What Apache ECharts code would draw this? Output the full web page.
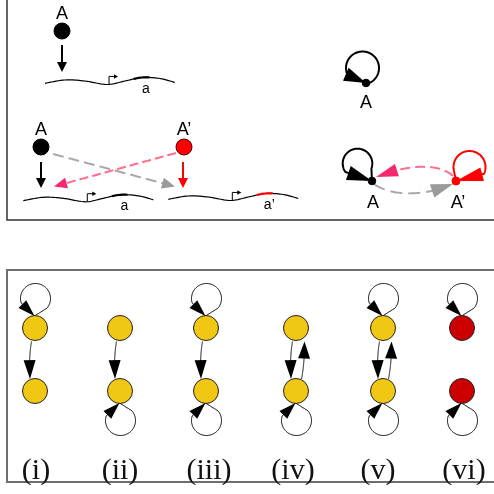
<!DOCTYPE html>
<html><head><meta charset="utf-8">
<script src="https://cdn.jsdelivr.net/npm/echarts@6/dist/echarts.min.js"></script>
<style>html,body{margin:0;padding:0;background:#fff}#c{width:494px;height:494px}</style>
</head><body><div id="c"></div>
<script>
// ---------- data ----------
const topNodeLabels = ['A', 'A’'];
const geneLabels = ['a', 'a’'];
const motifLabels = ['(i)', '(ii)', '(iii)', '(iv)', '(v)', '(vi)'];
const motifTopSelfLoop = [1, 0, 1, 0, 1, 1];
const motifBottomSelfLoop = [0, 1, 1, 1, 1, 1];
const motifDownEdge = [1, 1, 1, 1, 1, 0];
const motifUpEdge = [0, 0, 0, 1, 1, 0];
const motifRepressed = [0, 0, 0, 0, 0, 1];

// ---------- layout (value space 0..494 on both axes) ----------
const LAYOUT = {
  motifNodeX: [35, 120, 206, 296, 383, 462],
  motifLabelX: [36, 120, 209, 293, 378, 464],
  motifTopY: 328, motifBottomY: 391, motifR: 12.5, motifLabelY: 471,
  geneShape: [[0,0],[20,-3.3],[40,-2.3],[62,1.2],[80,-2.3],[97,-5.8],[115,-4.8],[130,-0.8]],
  geneStarts: [[45,83.3],[23.3,200.6],[168.3,199.3]]
};
const STYLE = {
  yellow: '#f0c814', red: '#cc0000', bright: '#ff0000',
  pinkLine: '#ff6f8c', pinkHead: '#f5286e', grayLine: '#a8a8a8', grayHead: '#9a9a9a'
};

const chart = echarts.init(document.getElementById('c'), null, {renderer: 'canvas'});
const deg = Math.PI / 180;

function renderItem(params, api) {
  const P = (x, y) => api.coord([x, y]);
  const kids = [];
  const dist = (a, b) => Math.hypot(a[0] - b[0], a[1] - b[1]);
  function bezPt(p0, c1, c2, p1, t) {
    const u = 1 - t;
    return [u*u*u*p0[0] + 3*u*u*t*c1[0] + 3*u*t*t*c2[0] + t*t*t*p1[0],
            u*u*u*p0[1] + 3*u*u*t*c1[1] + 3*u*t*t*c2[1] + t*t*t*p1[1]];
  }
  function head(tip, from, len, w, color) {
    let dx = tip[0] - from[0], dy = tip[1] - from[1];
    const d = Math.hypot(dx, dy) || 1; dx /= d; dy /= d;
    const b = [tip[0] - dx * len, tip[1] - dy * len];
    const nx = -dy * w / 2, ny = dx * w / 2;
    kids.push({type: 'polygon', z2: 20, shape: {points: [tip, [b[0] + nx, b[1] + ny], [b[0] - nx, b[1] - ny]]},
      style: {fill: color, stroke: null}});
  }
  // path (pixel points) ending in an arrowhead at its last point
  function pathArrow(pts, o) {
    const p1 = pts[pts.length - 1];
    // densify
    const dense = [];
    for (let i = 0; i < pts.length - 1; i++) {
      const a = pts[i], b = pts[i + 1], n = Math.max(1, Math.ceil(dist(a, b)));
      for (let j = 0; j < n; j++) dense.push([a[0] + (b[0] - a[0]) * j / n, a[1] + (b[1] - a[1]) * j / n]);
    }
    dense.push(p1);
    let k = dense.length - 1;
    while (k > 0 && dist(dense[k], p1) < o.len * 0.9) k--;
    kids.push({type: 'polyline', z2: 5, shape: {points: dense.slice(0, k + 1)},
      style: {stroke: o.color, lineWidth: o.lw, fill: null, lineDash: o.dash || null, lineCap: 'butt', lineJoin: 'round'}});
    head(p1, dense[k], o.len, o.w, o.headColor || o.color);
  }
  function arrow(p0v, c1v, c2v, p1v, o) {
    const p0 = P(p0v[0], p0v[1]), c1 = P(c1v[0], c1v[1]), c2 = P(c2v[0], c2v[1]), p1 = P(p1v[0], p1v[1]);
    const pts = [];
    for (let i = 0; i <= 100; i++) pts.push(bezPt(p0, c1, c2, p1, i / 100));
    pathArrow(pts, o);
  }
  function straight(a, b, o) { arrow(a, a, b, b, o); }
  // self loop: line from node point p to circle (center c, radius r) at angle a1, arc to a2, back to p with arrowhead
  function arcLoop(p, c, r, a1, a2, o) {
    const pts = [P(p[0], p[1])];
    const n = 90;
    for (let i = 0; i <= n; i++) {
      const a = (a1 + (a2 - a1) * i / n) * deg;
      pts.push(P(c[0] + r * Math.cos(a), c[1] + r * Math.sin(a)));
    }
    pts.push(P(p[0], p[1]));
    pathArrow(pts, o);
  }
  function circle(x, y, r, fill, stroke, lw) {
    const c = P(x, y);
    kids.push({type: 'circle', z2: 10, shape: {cx: c[0], cy: c[1], r: r}, style: {fill: fill, stroke: stroke, lineWidth: lw}});
  }
  function text(s, x, y, font, color) {
    const c = P(x, y);
    kids.push({type: 'text', z2: 30, style: {text: s, x: c[0], y: c[1], font: font, fill: color || '#000',
      align: 'center', verticalAlign: 'middle'}});
  }
  function catmull(pts, seg) {
    const out = [];
    for (let i = 0; i < pts.length - 1; i++) {
      const p0 = pts[Math.max(0, i - 1)], p1 = pts[i], p2 = pts[i + 1], p3 = pts[Math.min(pts.length - 1, i + 2)];
      for (let j = 0; j < seg; j++) {
        const t = j / seg, t2 = t * t, t3 = t2 * t;
        out.push([0, 1].map(k => 0.5 * ((2 * p1[k]) + (-p0[k] + p2[k]) * t + (2*p0[k] - 5*p1[k] + 4*p2[k] - p3[k]) * t2 + (-p0[k] + 3*p1[k] - 3*p2[k] + p3[k]) * t3)));
      }
    }
    out.push(pts[pts.length - 1]);
    return out;
  }
  function gene(start, label, segColor) {
    const pts = catmull(LAYOUT.geneShape.map(q => [start[0] + q[0], start[1] + q[1]]), 10);
    kids.push({type: 'polyline', z2: 5, shape: {points: pts.map(q => P(q[0], q[1]))},
      style: {stroke: '#000', lineWidth: 1.2, fill: null}});
    const seg = pts.filter(q => q[0] >= start[0] + 87 && q[0] <= start[0] + 106);
    kids.push({type: 'polyline', z2: 6, shape: {points: seg.map(q => P(q[0], q[1]))},
      style: {stroke: segColor, lineWidth: 2.2, fill: null}});
    const px = start[0] + 64;
    const py = pts.reduce((b, q) => Math.abs(q[0] - px) < Math.abs(b[0] - px) ? q : b)[1];
    const a = P(px, py), b = P(px, py - 8), c = P(px + 6, py - 8);
    kids.push({type: 'polyline', z2: 6, shape: {points: [a, b, c]}, style: {stroke: '#000', lineWidth: 1, fill: null}});
    head(P(px + 9, py - 8), c, 4, 4.5, '#000');
    text(label, start[0] + 101, start[1] + 5.5, '14px "Liberation Sans", Arial', '#000');
  }

  // ---------- panel borders ----------
  kids.push({type: 'polyline', shape: {points: [P(7, -5), P(7, 220), P(500, 220)]},
    style: {stroke: '#333', lineWidth: 1.5, fill: null}});
  kids.push({type: 'polyline', shape: {points: [P(500, 270), P(7, 270), P(7, 482), P(500, 482)]},
    style: {stroke: '#6e6e6e', lineWidth: 2, fill: null}});

  const lab = '18px "Liberation Sans", Arial';
  // ---------- top-left: single gene ----------
  circle(62, 31, 8, '#000', '#000', 1);
  text(topNodeLabels[0], 62, 14, lab);
  straight([62, 45], [62, 72], {color: '#000', lw: 2, len: 10, w: 10});
  gene(LAYOUT.geneStarts[0], geneLabels[0], '#000');

  // ---------- middle-left: duplicated genes ----------
  straight([53, 154], [175, 186.5], {color: STYLE.grayLine, headColor: STYLE.grayHead, lw: 2, len: 13, w: 11, dash: [11, 5]});
  straight([176, 153], [54, 186.5], {color: STYLE.pinkLine, headColor: STYLE.pinkHead, lw: 2, len: 13, w: 11, dash: [9, 4]});
  circle(41, 147, 8, '#000', '#000', 1);
  circle(184, 147, 8, STYLE.bright, '#5a0000', 1);
  text(topNodeLabels[0], 41, 130, lab);
  text(topNodeLabels[1], 184, 130, lab);
  straight([41, 162], [41, 188], {color: '#000', lw: 2, len: 10, w: 10});
  straight([183, 162], [183, 188], {color: STYLE.bright, lw: 2, len: 10, w: 10});
  gene(LAYOUT.geneStarts[1], geneLabels[0], '#000');
  gene(LAYOUT.geneStarts[2], geneLabels[1], STYLE.bright);

  // ---------- top-right: network views ----------
  arcLoop([366, 83], [362.5, 68], 16.5, 72, -205, {color: '#000', lw: 2, len: 22, w: 14});
  circle(366, 83, 3.8, '#000', '#000', 1);
  text(topNodeLabels[0], 366, 103, lab);

  arrow([453, 176], [440, 164], [412, 163], [376, 177], {color: STYLE.pinkLine, headColor: STYLE.pinkHead, lw: 2, len: 22, w: 13, dash: [10, 5]});
  arrow([374, 184], [392, 197], [426, 196], [453, 184], {color: STYLE.grayLine, headColor: STYLE.grayHead, lw: 2, len: 22, w: 14, dash: [12, 6]});
  arcLoop([372, 181], [357.5, 163.5], 14.8, 20, -215, {color: '#000', lw: 2, len: 25, w: 15});
  arcLoop([456, 181], [469.5, 167], 16, 165, 385, {color: STYLE.bright, lw: 2, len: 27, w: 14});
  circle(372, 181, 3.8, '#000', '#000', 1);
  circle(456, 181, 4, STYLE.bright, STYLE.bright, 1);
  text(topNodeLabels[0], 373, 203, lab);
  text(topNodeLabels[1], 458, 203, lab);

  // ---------- bottom: motifs ----------
  const ty = LAYOUT.motifTopY, by = LAYOUT.motifBottomY, r = LAYOUT.motifR;
  motifLabels.forEach((m, i) => {
    const x = LAYOUT.motifNodeX[i];
    const eo = {color: '#000', lw: 1, len: 19, w: 12};
    const lo = {color: '#000', lw: 1, len: 17, w: 11};
    if (motifTopSelfLoop[i]) arcLoop([x - 0.5, ty - r + 0.5], [x + 0.5, ty - 29.5], 15, 40, -197, lo);
    if (motifBottomSelfLoop[i]) arcLoop([x - 0.5, by + r - 0.5], [x + 0.5, by + 29.5], 15, -40, 197, lo);
    if (motifDownEdge[i]) arrow([x - 3.5, ty + r + 1], [x - 5, ty + r + 10], [x - 6, by - r - 18], [x - 5, by - r + 0.5], eo);
    if (motifUpEdge[i]) arrow([x + 5.5, by - r + 0.5], [x + 7.5, by - r - 10], [x + 8.5, ty + r + 18], [x + 8.5, ty + r + 1], {color: '#000', lw: 1, len: 17, w: 12});
    const fill = motifRepressed[i] ? STYLE.red : STYLE.yellow;
    circle(x, ty, r, fill, '#222', 1);
    circle(x, by, r, fill, '#222', 1);
    text(m, LAYOUT.motifLabelX[i], LAYOUT.motifLabelY, '30px "Liberation Serif", "Times New Roman", serif', '#111');
  });

  return {type: 'group', children: kids};
}

chart.setOption({
  animation: false,
  grid: {left: 0, right: 0, top: 0, bottom: 0},
  xAxis: {type: 'value', min: 0, max: 494, show: false},
  yAxis: {type: 'value', min: 0, max: 494, inverse: true, show: false},
  series: [{type: 'custom', coordinateSystem: 'cartesian2d', clip: false, renderItem: renderItem, data: [[0, 0]]}]
});
</script>
</body></html>
